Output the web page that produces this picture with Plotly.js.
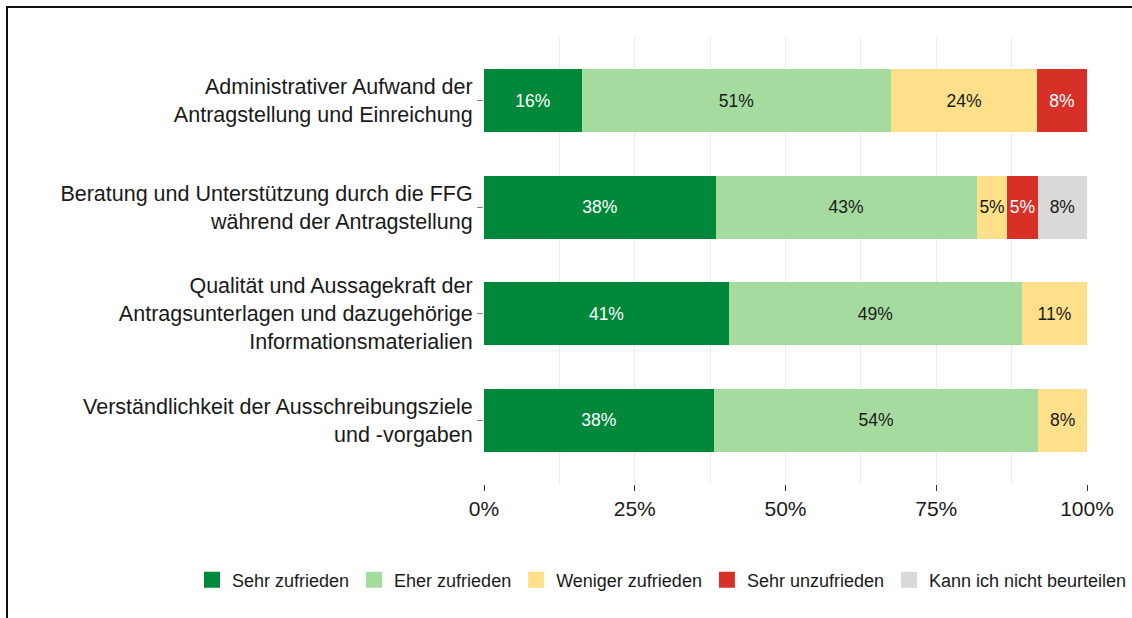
<!DOCTYPE html>
<html>
<head>
<meta charset="utf-8">
<script src="https://cdn.plot.ly/plotly-3.0.1.min.js"></script>
<style>
  html, body { margin: 0; padding: 0; background: #fff; }
  #wrap { position: relative; width: 1132px; height: 618px; overflow: hidden; }
  #chart { position: absolute; left: 0; top: 0; width: 1132px; height: 618px; }
  #frame { position: absolute; left: 6px; top: 6px; width: 1200px; height: 700px;
           border-left: 2px solid #111; border-top: 2px solid #111; pointer-events: none; }
</style>
</head>
<body>
<div id="wrap">
  <div id="chart"></div>
  <div id="frame"></div>
</div>
<script>
// Categories (top to bottom)
const categories = [
  "Administrativer Aufwand der<br>Antragstellung und Einreichung",
  "Beratung und Unterstützung durch die FFG<br>während der Antragstellung",
  "Qualität und Aussagekraft der<br>Antragsunterlagen und dazugehörige<br>Informationsmaterialien",
  "Verständlichkeit der Ausschreibungsziele<br>und -vorgaben"
];
const seriesNames = ["Sehr zufrieden", "Eher zufrieden", "Weniger zufrieden", "Sehr unzufrieden", "Kann ich nicht beurteilen"];
// Shares in percent
const sehrZufrieden     = [16.2, 38.4, 40.6, 38.1];
const eherZufrieden     = [51.3, 43.3, 48.6, 53.8];
const wenigerZufrieden  = [24.2, 5.1, 10.8, 8.1];
const sehrUnzufrieden   = [8.3, 5.0, 0, 0];
const kannNicht         = [0, 8.2, 0, 0];
const xTickVals = [0, 25, 50, 75, 100];
const xTickText = ["0%", "25%", "50%", "75%", "100%"];

const seriesValues = [sehrZufrieden, eherZufrieden, wenigerZufrieden, sehrUnzufrieden, kannNicht];
const colors = ["#00883A", "#A6DBA0", "#FEE08B", "#D73027", "#D9D9D9"];
const textColors = ["#ffffff", "#1a1a1a", "#1a1a1a", "#ffffff", "#1a1a1a"];
const FONT = "Liberation Sans, Arial, sans-serif";

const barTraces = seriesNames.map((name, i) => ({
  type: "bar",
  orientation: "h",
  name: name,
  legendgroup: name,
  showlegend: false,
  y: categories,
  x: seriesValues[i],
  text: seriesValues[i].map(v => v > 0 ? Math.round(v) + "%" : ""),
  textposition: "inside",
  insidetextanchor: "middle",
  constraintext: "none",
  textangle: 0,
  textfont: { family: FONT, size: 17.5, color: textColors[i] },
  marker: { color: colors[i], line: { width: 0 } },
  hoverinfo: "none"
}));

// legend-only entries with larger square keys
const legendTraces = seriesNames.map((name, i) => ({
  type: "scatter",
  mode: "markers",
  name: name,
  legendgroup: name,
  showlegend: true,
  x: [null],
  y: [null],
  marker: { symbol: "square", size: 16, color: colors[i] },
  hoverinfo: "none"
}));

const layout = {
  width: 1132,
  height: 618,
  barmode: "stack",
  bargap: 0.41,
  paper_bgcolor: "rgba(0,0,0,0)",
  plot_bgcolor: "#ffffff",
  margin: { l: 484, r: 45, t: 37, b: 134 },
  font: { family: FONT, color: "#1a1a1a" },
  showlegend: true,
  legend: {
    orientation: "h",
    x: -0.465, xanchor: "left",
    y: -0.215, yanchor: "middle",
    font: { size: 18, color: "#1a1a1a" },
    traceorder: "normal",
    itemsizing: "trace",
    itemwidth: 30,
    bgcolor: "rgba(0,0,0,0)"
  },
  xaxis: {
    range: [0, 100],
    tickvals: xTickVals,
    ticktext: xTickText,
    ticks: "outside",
    ticklen: 6,
    tickcolor: "#333333",
    tickfont: { size: 21, color: "#1a1a1a" },
    showgrid: true,
    gridcolor: "#EBEBEB",
    gridwidth: 1,
    minor: { dtick: 12.5, showgrid: true, gridcolor: "#EBEBEB", gridwidth: 1, ticks: "" },
    zeroline: false,
    showline: false,
    fixedrange: true
  },
  yaxis: {
    type: "category",
    categoryorder: "array",
    categoryarray: categories,
    range: [3.6, -0.6],
    ticks: "outside",
    ticklen: 6,
    tickcolor: "#7f7f7f",
    tickfont: { size: 21.5, color: "#1a1a1a" },
    showgrid: false,
    zeroline: false,
    showline: false,
    fixedrange: true
  }
};

Plotly.newPlot("chart", barTraces.concat(legendTraces), layout, { displayModeBar: false, staticPlot: true });
</script>
</body>
</html>
